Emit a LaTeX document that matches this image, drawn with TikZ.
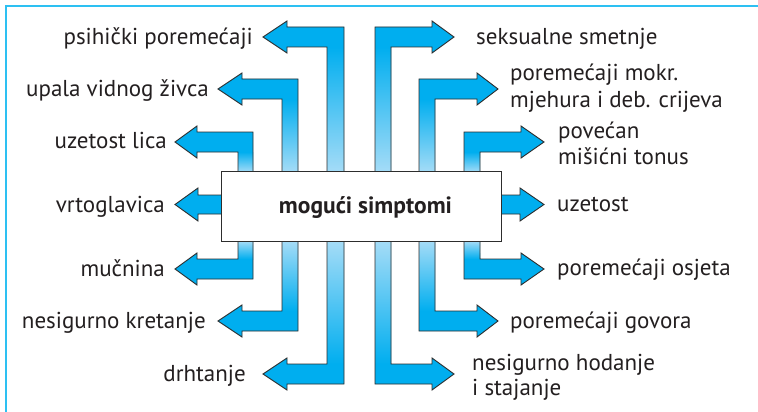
\documentclass[tikz,border=0pt]{standalone}
\usepackage{fontspec}
\setmainfont{PT Sans}
\definecolor{cy}{RGB}{0,174,239}
\definecolor{pale}{RGB}{165,220,247}
\definecolor{edgec}{RGB}{45,45,45}
\definecolor{framec}{RGB}{45,192,242}
\definecolor{txt}{RGB}{35,31,32}
% #1 outer x, #2 inner x, #3 head base x, #4 tip x, #5 #6 top arm y, #7 #8 bottom arm y
\newcommand\colshape[8]{(#4,{(#5+#6)/2}) -- (#3,{#5-6}) -- (#3,#5) -- (#1,#5) -- (#1,#8) -- (#3,#8) -- (#3,{#8+6}) -- (#4,{(#7+#8)/2}) -- (#3,{#7-6}) -- (#3,#7) -- (#2,#7) -- (#2,#6) -- (#3,#6) -- (#3,{#6+6}) -- cycle}
\newcommand\arrowcol[8]{%
  \fill[cy] \colshape{#1}{#2}{#3}{#4}{#5}{#6}{#7}{#8};
  \begin{scope}
    \clip \colshape{#1}{#2}{#3}{#4}{#5}{#6}{#7}{#8};
    \shade[top color=cy,bottom color=pale] (#1,#6) rectangle (#2,172);
    \fill[pale] (#1,172) rectangle (#2,241);
    \shade[top color=pale,bottom color=cy] (#1,241) rectangle (#2,#7);
  \end{scope}
  \draw[arrowedge] \colshape{#1}{#2}{#3}{#4}{#5}{#6}{#7}{#8};
}
\tikzset{
  arrowedge/.style={draw=edgec,line width=0.9pt,line join=miter},
  lab/.style={font=\fontsize{23}{26}\selectfont,inner sep=0pt,text=txt},
  labl/.style={lab,anchor=base east},
  labr/.style={lab,anchor=base west},
}
\begin{document}
\begin{tikzpicture}[x=1pt,y=-1pt]
\useasboundingbox (0,0) rectangle (758,412);
\fill[white] (0,0) rectangle (758,412);
\draw[framec,line width=2pt] (6,412) -- (6,6) -- (758,6);

% left columns
\arrowcol{344}{327}{287}{263}{27}{47}{364}{384}
\arrowcol{298}{282}{242}{218}{79}{99}{311}{331}
\arrowcol{253}{238}{197}{175}{132}{152}{259}{279}
% right columns
\arrowcol{375}{391}{432}{454}{27}{47}{364}{384}
\arrowcol{419}{435}{477}{498}{79}{99}{311}{331}
\arrowcol{464}{480}{521}{544}{132}{152}{259}{279}

% straight arrows
\filldraw[fill=cy,arrowedge] (175,204.5) -- (198,188) -- (198,195) -- (230,195) -- (230,214) -- (198,214) -- (198,221) -- cycle;
\filldraw[fill=cy,arrowedge] (544,204.5) -- (520,188) -- (520,195) -- (490,195) -- (490,214) -- (520,214) -- (520,221) -- cycle;

% central box
\node[draw=edgec,fill=white,line width=0.9pt,minimum width=280pt,minimum height=70pt,inner sep=0pt] (box) at (361,206.5) {};
\node[font=\fontsize{23.5}{26}\selectfont\bfseries,text=txt,inner sep=0pt,anchor=base] (boxt) at (365.5,213) {mogući simptomi};

% left labels
\node[labl] (l1) at (253,45) {psihički poremećaji};
\node[labl] (l2) at (209,96) {upala vidnog živca};
\node[labl] (l3) at (167,148) {uzetost lica};
\node[labl] (l4) at (165,212) {vrtoglavica};
\node[labl] (l5) at (165,276) {mučnina};
\node[labl] (l6) at (206,328) {nesigurno kretanje};
\node[labl] (l7) at (246,381) {drhtanje};

% right labels
\node[labr] (r1) at (476,45) {seksualne smetnje};
\node[labr] (r2a) at (510,81) {poremećaji mokr.};
\node[labr] (r2b) at (510,107) {mjehura i deb. crijeva};
\node[labr] (r3a) at (558,139) {povećan};
\node[labr] (r3b) at (558,164) {mišićni tonus};
\node[labr] (r4) at (557,211) {uzetost};
\node[labr] (r5) at (557,275) {poremećaji osjeta};
\node[labr] (r6) at (510,328) {poremećaji govora};
\node[labr] (r7a) at (472,370) {nesigurno hodanje};
\node[labr] (r7b) at (472,395) {i stajanje};
\end{tikzpicture}
\end{document}
